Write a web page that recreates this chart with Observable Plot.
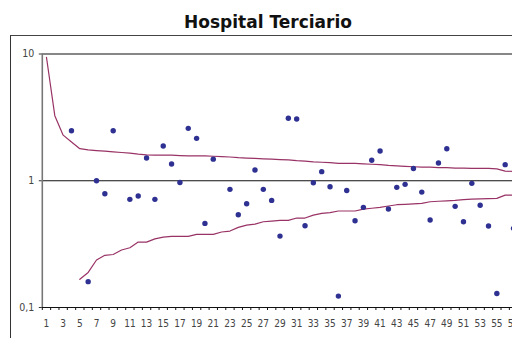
<!DOCTYPE html>
<html><head><meta charset="utf-8">
<script src="https://cdn.jsdelivr.net/npm/d3@7"></script>
<script src="https://cdn.jsdelivr.net/npm/@observablehq/plot@0.6"></script>
<style>
html,body{margin:0;padding:0;background:#fff;overflow:hidden;width:512px;height:338px;}
#title{position:absolute;left:0;top:4px;width:536px;text-align:center;font:bold 17px "DejaVu Sans",sans-serif;color:#111;line-height:36px;}
#box{position:absolute;left:10px;top:35px;width:600px;height:400px;border-left:1.5px solid #333;border-top:1.5px solid #444;}
#chart{position:absolute;left:12px;top:37px;width:520px;}
#chart svg{max-width:none !important;}
#chart svg text{font-stretch:condensed;}
</style></head>
<body>
<div id="title">Hospital Terciario</div>
<div id="box"></div>
<div id="chart"></div>
<script>
// Observed points (category, ratio)
const pointCats = [4,6,7,8,9,11,12,13,14,15,16,17,18,19,20,21,23,24,25,26,27,28,29,30,31,32,33,34,35,36,37,38,39,40,41,42,43,44,45,46,47,48,49,50,51,52,53,54,55,56,57];
const pointVals = [2.48,0.16,1.0,0.79,2.48,0.713,0.757,1.51,0.713,1.88,1.355,0.97,2.59,2.16,0.461,1.48,0.855,0.539,0.658,1.215,0.855,0.70,0.366,3.11,3.07,0.441,0.964,1.18,0.897,0.123,0.837,0.483,0.617,1.45,1.715,0.598,0.887,0.937,1.25,0.814,0.49,1.38,1.79,0.628,0.475,0.954,0.64,0.439,0.129,1.34,0.421];

// Upper control limit, categories 1..57
const upperCats = d3.range(1, 58);
const upperVals = [9.42,3.26,2.29,2.02,1.79,1.75,1.73,1.71,1.69,1.67,1.65,1.62,1.60,1.59,1.59,1.59,1.58,1.57,1.57,1.57,1.56,1.55,1.54,1.52,1.51,1.50,1.49,1.48,1.47,1.46,1.44,1.43,1.41,1.40,1.39,1.37,1.37,1.37,1.36,1.35,1.34,1.32,1.31,1.30,1.29,1.28,1.28,1.27,1.27,1.26,1.26,1.25,1.25,1.25,1.24,1.19,1.185];

// Lower control limit, categories 5..57
const lowerCats = d3.range(5, 58);
const lowerVals = [0.167,0.189,0.237,0.258,0.262,0.284,0.296,0.328,0.328,0.348,0.359,0.364,0.364,0.364,0.377,0.377,0.377,0.394,0.401,0.429,0.447,0.455,0.475,0.481,0.487,0.487,0.508,0.508,0.536,0.553,0.56,0.577,0.577,0.577,0.598,0.607,0.617,0.632,0.647,0.652,0.658,0.663,0.683,0.689,0.695,0.70,0.709,0.717,0.72,0.723,0.726,0.77,0.77];

const xLabels = d3.range(1, 58, 2);
const yTicks = [0.1, 1, 10];
const yTickLabels = ["0,1", "1", "10"];
const yLabelOf = new Map(yTicks.map((t, i) => [t, yTickLabels[i]]));

const points = pointCats.map((c, i) => ({c, v: pointVals[i]}));
const upper = upperCats.map((c, i) => ({c, v: upperVals[i]}));
const lower = lowerCats.map((c, i) => ({c, v: lowerVals[i]}));

const font = '"DejaVu Sans Condensed","Liberation Sans Narrow","DejaVu Sans",sans-serif';

const chart = Plot.plot({
  width: 515,
  height: 301,
  marginLeft: 29.8,
  marginRight: 9.8,
  marginTop: 16.5,
  marginBottom: 31,
  style: {fontFamily: font, fontSize: "10px", color: "#444", background: "transparent", overflow: "visible"},
  x: {type: "linear", domain: [0.5, 57.5], axis: null},
  y: {type: "log", domain: [0.1, 10], axis: null},
  marks: [
    Plot.ruleY([1, 10], {stroke: "#111", strokeWidth: 1.2}),
    Plot.ruleY([0.1], {stroke: "#111", strokeWidth: 1.2}),
    Plot.axisY({ticks: yTicks, tickSize: 3, tickPadding: 5, tickFormat: d => yLabelOf.get(d) ?? (Math.abs(d - 0.1) < 1e-9 ? "0,1" : String(d)), stroke: "#333", fill: "#444", label: null, fontSize: 10.5}),
    Plot.axisX({ticks: d3.range(0.5, 58, 1), tickSize: 3, tickFormat: () => "", stroke: "#111", label: null}),
    Plot.axisX({ticks: xLabels, tickSize: 0, tickPadding: 12, tickFormat: d => String(d), fill: "#444", label: null}),
    Plot.ruleX([0.5], {stroke: "#777", strokeWidth: 1.6}),
    Plot.line(upper, {x: "c", y: "v", stroke: "#993366", strokeWidth: 1.2}),
    Plot.line(lower, {x: "c", y: "v", stroke: "#993366", strokeWidth: 1.2}),
    Plot.dot(points, {x: "c", y: "v", r: 2.7, fill: "#2e3192", stroke: "none"})
  ]
});
document.getElementById("chart").appendChild(chart);
</script>
</body></html>
